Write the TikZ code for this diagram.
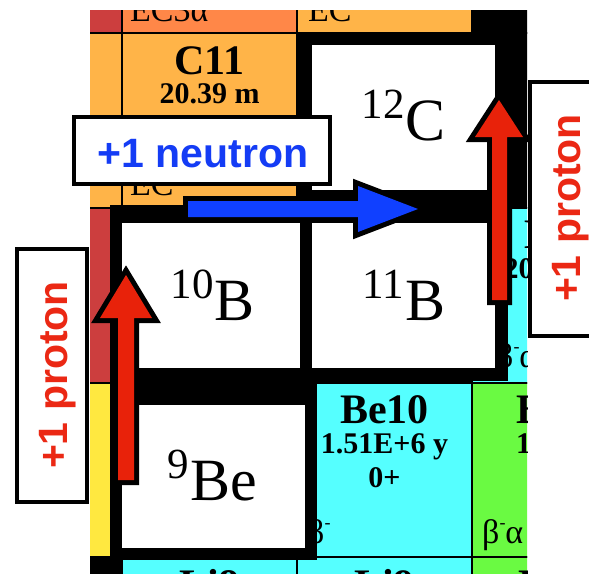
\documentclass[tikz,border=0pt]{standalone}
\usepackage{fontspec}
\setmainfont{Liberation Serif}
\newfontfamily\labfont{Liberation Sans}
\definecolor{cred}{RGB}{204,62,62}
\definecolor{corr}{RGB}{255,135,72}
\definecolor{corg}{RGB}{255,180,72}
\definecolor{cyel}{RGB}{255,232,64}
\definecolor{ccya}{RGB}{85,255,255}
\definecolor{cgrn}{RGB}{106,250,66}
\definecolor{arrblue}{RGB}{16,64,255}
\definecolor{arrred}{RGB}{232,34,10}
\definecolor{txtblue}{RGB}{20,60,245}
\definecolor{txtred}{RGB}{235,40,20}
\newcommand\supminus{\raisebox{0.42em}{\fontsize{18}{18}\selectfont -}}
\newcommand\isolab[2]{\raisebox{22pt}{\fontsize{43}{43}\selectfont #1}\kern1pt #2}
\tikzset{
  cell/.style={draw=black,line width=1.5pt},
  nuc/.style={anchor=base,inner sep=0pt,font=\bfseries\fontsize{42}{42}\selectfont},
  half/.style={anchor=base,inner sep=0pt,font=\bfseries\fontsize{30}{30}\selectfont},
  decay/.style={anchor=base west,inner sep=0pt,font=\fontsize{34}{34}\selectfont},
  iso/.style={anchor=base,inner sep=0pt,font=\fontsize{60}{60}\selectfont},
  labelbox/.style={draw=black,line width=4pt,fill=white},
  labeltext/.style={anchor=base,inner sep=0pt,font=\labfont\bfseries\fontsize{41}{41}\selectfont},
  arrowshape/.style={line join=miter,miter limit=6,
    preaction={draw=black,line width=10pt,line join=miter,miter limit=6}},
}
\begin{document}
\begin{tikzpicture}[x=1pt,y=-1pt]
\useasboundingbox (0,0) rectangle (589,573);
\begin{scope}
  \clip (90,10) rectangle (527,573);
  % row Z=7
  \path[cell,fill=cred]  (-53,-142) rectangle (122,33);
  \path[cell,fill=corr]  (122,-142) rectangle (297,33);
  \path[cell,fill=corg]  (297,-142) rectangle (472,33);
  \path[cell,fill=black] (472,-142) rectangle (647,33);
  % row Z=6
  \path[cell,fill=corg]  (-53,33) rectangle (122,208);
  \path[cell,fill=corg]  (122,33) rectangle (297,208);
  \path[cell,fill=black] (297,33) rectangle (472,208);
  \path[cell,fill=black] (472,33) rectangle (647,208);
  % row Z=5
  \path[cell,fill=cred]  (-53,208) rectangle (122,383);
  \path[cell,fill=black] (122,208) rectangle (297,383);
  \path[cell,fill=black] (297,208) rectangle (472,383);
  \path[cell,fill=ccya]  (472,208) rectangle (647,383);
  % row Z=4
  \path[cell,fill=cyel]  (-53,383) rectangle (122,557);
  \path[cell,fill=black] (122,383) rectangle (297,557);
  \path[cell,fill=ccya]  (297,383) rectangle (472,557);
  \path[cell,fill=cgrn]  (472,383) rectangle (647,557);
  % row Z=3
  \path[cell,fill=black] (-53,557) rectangle (122,732);
  \path[cell,fill=ccya]  (122,557) rectangle (297,732);
  \path[cell,fill=ccya]  (297,557) rectangle (472,732);
  \path[cell,fill=cgrn]  (472,557) rectangle (647,732);
  % cell texts
  \node[decay] (n12dec) at (130,21) {EC3α};
  \node[decay] (n13dec) at (308,21) {EC};
  \node[nuc]  (c11name) at (209.5,74) {C11};
  \node[half] (c11half) at (209.5,103) {20.39 m};
  \node[decay] (c11dec) at (130,195) {EC};
  \node[nuc]  (b12name) at (559.5,248) {B12};
  \node[half] (b12half) at (559.5,278) {20.20 ms};
  \node[decay] (b12dec) at (496,367) {β\supminus α};
  \node[nuc]  (be10name) at (384.5,423) {Be10};
  \node[half] (be10half) at (384.5,453) {1.51E+6 y};
  \node[half] (be10spin) at (384.5,487) {0+};
  \node[decay] (be10dec) at (307,543) {β\supminus};
  \node[nuc]  (be11name) at (559.5,423) {Be11};
  \node[half] (be11half) at (559.5,453) {13.76 s};
  \node[decay] (be11dec) at (482,543) {β\supminus α};
  \node[nuc]  (li8name) at (209.5,598) {Li8};
  \node[nuc]  (li9name) at (384.5,598) {Li9};
  \node[nuc]  (li10name) at (559.5,598) {Li10};
  % highlighted frames
  \fill[black] (110,205) rectangle (508,381);
  \fill[black] (110,381) rectangle (317,560);
  \fill[white] (312,45) rectangle (495,190);
  \fill[white] (122,223) rectangle (300,368);
  \fill[white] (312,223) rectangle (495,368);
  \fill[white] (122,405) rectangle (305,548);
\end{scope}
% isotope labels
\node[iso] (c12) at (404,140) {\isolab{12}{C}};
\node[iso] (b11) at (404,320) {\isolab{11}{B}};
\node[iso] (b10) at (213,320) {\isolab{10}{B}};
\node[iso] (be9) at (212.5,500) {\isolab{9}{Be}};
% arrows
\path[arrowshape,fill=arrblue] (188,201) -- (358,201) -- (358,186) -- (418,209)
  -- (358,232) -- (358,217) -- (188,217) -- cycle;
\path[arrowshape,fill=arrred] (118,480) -- (118,318) -- (100,318) -- (126,275)
  -- (152,318) -- (134,318) -- (134,480) -- cycle;
\path[arrowshape,fill=arrred] (492,300) -- (492,137) -- (475,137) -- (499,100)
  -- (523,137) -- (507,137) -- (507,300) -- cycle;
% label boxes
\draw[labelbox] (74,117) rectangle (330,184);
\node[labeltext,text=txtblue] (neutron) at (203,167) {+1 neutron};
\draw[labelbox] (17,249) rectangle (87,502);
\node[labeltext,text=txtred,rotate=90] (protonL) at (67,375) {+1 proton};
\draw[labelbox] (530,82) rectangle (610,336);
\node[labeltext,text=txtred,rotate=90] (protonR) at (580,208) {+1 proton};
\end{tikzpicture}
\end{document}
